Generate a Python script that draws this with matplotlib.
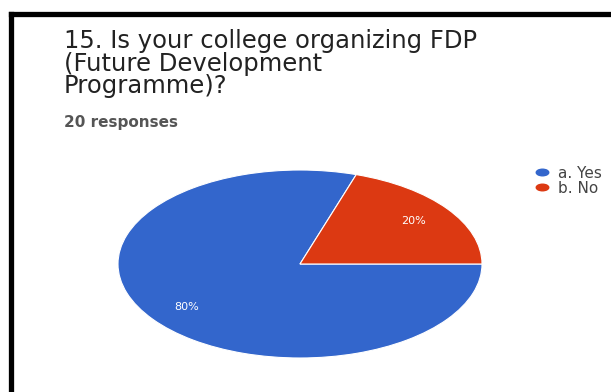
import matplotlib.pyplot as plt
from matplotlib.lines import Line2D
from matplotlib.path import Path
from matplotlib.transforms import Affine2D

# 问卷第15题的回答
labels = ['a. Yes', 'b. No']
values = [80, 20]
colors = ['#3366cc', '#dc3912']
title_lines = ['15. Is your college organizing FDP',
               '(Future Development',
               'Programme)?']
n_responses = 20

W, H = 611, 392
fig = plt.figure(figsize=(W / 100, H / 100), dpi=100)
fig.patch.set_facecolor('white')

# 标题逐行放置，行距按像素控制
for i, line in enumerate(title_lines):
    fig.text(64 / W, 1 - (48 + 22.5 * i) / H, line, ha='left', va='baseline',
             fontsize=17.5, color='#222222', family='DejaVu Sans')
fig.text(64 / W, 1 - 127 / H, f'{n_responses} responses', ha='left',
         va='baseline', fontsize=11, color='#555555', fontweight='bold')

# 饼图（横向拉伸成椭圆）
ax = fig.add_axes([118 / W, 34 / H, 364 / W, 188 / H])
wedges, texts, autotexts = ax.pie(
    values, colors=colors, startangle=72, counterclock=True,
    autopct='%d%%', pctdistance=0.77,
    wedgeprops=dict(edgecolor='white', linewidth=0.8),
    textprops=dict(color='white', fontsize=8))
ax.set_aspect('auto')
ax.set_xlim(-1, 1)
ax.set_ylim(-1, 1)

# 图例，标记为横向椭圆
ellipse = Path.unit_circle().transformed(Affine2D().scale(1.9, 1.0))
handles = [Line2D([], [], linestyle='none', marker=ellipse, markersize=9,
                  markerfacecolor=c, markeredgecolor=c) for c in colors]
fig.legend(handles, labels, loc='upper left',
           bbox_to_anchor=(524 / W, 1 - 158 / H), frameon=False,
           fontsize=11, labelcolor='#444444', handlelength=1.3,
           handletextpad=0.4, labelspacing=0.0, borderpad=0)

# 外框的左边和上边
fig.add_artist(Line2D([10.5 / W, 10.5 / W], [0, 1 - 13.5 / H],
                      transform=fig.transFigure, color='black',
                      linewidth=3.8, solid_capstyle='projecting'))
fig.add_artist(Line2D([10.5 / W, 1], [1 - 13.5 / H, 1 - 13.5 / H],
                      transform=fig.transFigure, color='black',
                      linewidth=3.8, solid_capstyle='projecting'))

fig.savefig('out.png', dpi=100)
